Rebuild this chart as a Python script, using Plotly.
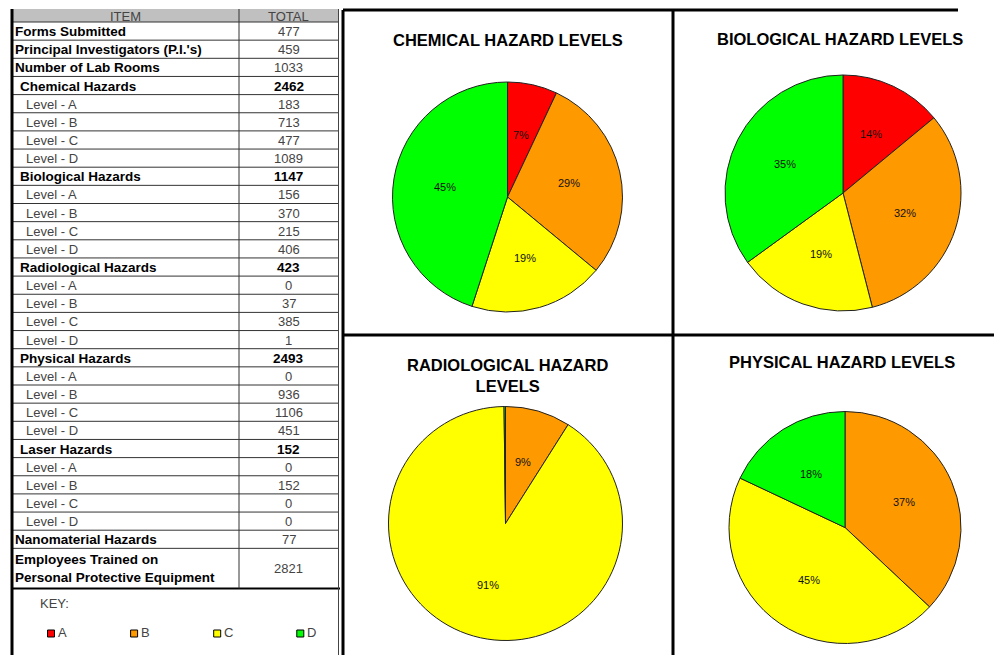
import numpy as np
import plotly.graph_objects as go

W, H = 994, 655
FONT = "Arial, Liberation Sans, sans-serif"

# ---------------------------------------------------------------- data
LEVELS = ["A", "B", "C", "D"]
LEVEL_COLORS = ["#FF0000", "#FF9900", "#FFFF00", "#00FF00"]

general_items = ["Forms Submitted", "Principal Investigators (P.I.'s)", "Number of Lab Rooms"]
general_totals = [477, 459, 1033]

hazard_groups = ["Chemical Hazards", "Biological Hazards", "Radiological Hazards",
                 "Physical Hazards", "Laser Hazards"]
chemical_counts = [183, 713, 477, 1089]
biological_counts = [156, 370, 215, 406]
radiological_counts = [0, 37, 385, 1]
physical_counts = [0, 936, 1106, 451]
laser_counts = [0, 152, 0, 0]

closing_items = ["Nanomaterial Hazards", "Employees Trained on<br>Personal Protective Equipment"]
closing_totals = [77, 2821]

# share of each level, in percent, as shown on the pies
chemical_pct = [7, 29, 19, 45]
biological_pct = [14, 32, 19, 35]
radiological_pct = [0, 9, 91, 0.2]
physical_pct = [0, 37, 45, 18]

pie_titles = ["CHEMICAL HAZARD LEVELS", "BIOLOGICAL HAZARD LEVELS",
              "RADIOLOGICAL HAZARD<br>LEVELS", "PHYSICAL HAZARD LEVELS"]

# ---------------------------------------------------------------- table rows
rows = []  # (label, value, kind)
for item, tot in zip(general_items, general_totals):
    rows.append((item, tot, "top"))
for group, counts in zip(hazard_groups, [chemical_counts, biological_counts, radiological_counts,
                                          physical_counts, laser_counts]):
    rows.append((group, sum(counts), "group"))
    for lvl, c in zip(LEVELS, counts):
        rows.append((f"Level - {lvl}", c, "level"))
for item, tot in zip(closing_items, closing_totals):
    rows.append((item, tot, "top"))

# table geometry (axis units equal screen pixels)
T_LEFT, T_RIGHT, T_SPLIT = 12.5, 338.5, 239.0
HEAD_TOP, HEAD_BOT = 9.0, 22.0
PITCH = 18.15
LAST_BOT = 588.5
INDENT = {"top": 12.5, "group": 17.5, "level": 23.5}

fig = go.Figure()
shapes, annos = [], []


def line(x0, y0, x1, y1, color="#000", width=1):
    shapes.append(dict(type="line", xref="x", yref="y", x0=x0, y0=y0, x1=x1, y1=y1,
                       line=dict(color=color, width=width)))


def text(x, y, s, size=13, color="#333", bold=False, xanchor="left", yanchor="middle",
         align="center"):
    annos.append(dict(xref="x", yref="y", x=x, y=y, text=s, showarrow=False,
                      xanchor=xanchor, yanchor=yanchor, align=align,
                      font=dict(family=FONT, size=size, color=color,
                                weight="bold" if bold else "normal")))


# header
shapes.append(dict(type="rect", xref="x", yref="y", x0=T_LEFT, x1=T_RIGHT, y0=HEAD_TOP, y1=HEAD_BOT,
                   fillcolor="#C0C0C0", line=dict(width=0), layer="below"))
text((T_LEFT + T_SPLIT) / 2, (HEAD_TOP + HEAD_BOT) / 2 + 0.5, "ITEM", size=13, color="#444",
     xanchor="center")
text((T_SPLIT + T_RIGHT) / 2, (HEAD_TOP + HEAD_BOT) / 2 + 0.5, "TOTAL", size=13, color="#444",
     xanchor="center")

# body rows
for i, (label, val, kind) in enumerate(rows):
    top = HEAD_BOT + i * PITCH
    bot = top + PITCH if i < len(rows) - 1 else LAST_BOT
    yc = (top + bot) / 2 + 0.5
    bold_label = kind in ("top", "group")
    text(INDENT[kind], yc, label, size=13.5 if bold_label else 13,
         color="#000" if bold_label else "#444", bold=bold_label, align="left")
    text((T_SPLIT + T_RIGHT) / 2, yc, f"{val}", size=13.5 if kind == "group" else 13,
         color="#000" if kind == "group" else "#444", bold=kind == "group", xanchor="center")
    line(T_LEFT, top, T_RIGHT, top, color="#333", width=1)

line(T_LEFT, LAST_BOT, 340, LAST_BOT, color="#000", width=2)
line(T_SPLIT, HEAD_TOP, T_SPLIT, LAST_BOT, color="#333", width=1)
line(T_RIGHT, HEAD_TOP, T_RIGHT, H, color="#444", width=1)
line(12, HEAD_TOP, 12, H, color="#000", width=3)

# key
text(38, 603, "KEY:", size=13, color="#444")
key_x = [51 + 83.1 * i for i in range(len(LEVELS))]
fig.add_trace(go.Scatter(x=key_x, y=[633.5] * len(LEVELS), mode="markers",
                         marker=dict(symbol="square", size=7, color=LEVEL_COLORS,
                                     line=dict(color="#000", width=1)),
                         hoverinfo="skip", showlegend=False))
for kx, lvl in zip(key_x, LEVELS):
    text(kx + 4.5, 632.5, lvl, size=13, color="#444")

# ---------------------------------------------------------------- chart panels
line(343, 10, 343, H, width=3)
line(673, 9, 673, H, width=3)
line(343, 10, 958, 10, width=3)
line(343, 335, W, 335, width=3)

# pies: (centre x, centre y, radius) and title position
pie_geom = [(507.5, 197, 115), (843, 193, 118), (505.5, 523.5, 117), (845, 527.5, 116)]
title_pos = [(508, 39.5), (840, 38.5), (507.5, 375), (842, 362)]
pie_values = [chemical_pct, biological_pct, radiological_pct, physical_pct]

for vals, (cx, cy, r), (tx, ty), title in zip(pie_values, pie_geom, title_pos, pie_titles):
    fig.add_trace(go.Pie(
        values=vals, labels=LEVELS, sort=False, direction="clockwise", rotation=0,
        marker=dict(colors=LEVEL_COLORS, line=dict(color="#222", width=1)),
        textinfo="none", hoverinfo="label+percent", showlegend=False,
        domain=dict(x=[(cx - r) / W, (cx + r) / W], y=[1 - (cy + r) / H, 1 - (cy - r) / H]),
    ))
    # percentage labels on the bisector of each slice
    v = np.asarray(vals, dtype=float)
    frac = v / v.sum()
    mid = np.cumsum(frac) - frac / 2
    for val, m in zip(vals, mid):
        if val < 1:
            continue
        ang = 2 * np.pi * m
        text(cx + 0.55 * r * np.sin(ang), cy - 0.55 * r * np.cos(ang), f"{val:g}%",
             size=11, color="#111", xanchor="center")
    text(tx, ty, title, size=16.5, color="#000", bold=True, xanchor="center")

fig.update_layout(
    width=W, height=H, margin=dict(l=0, r=0, t=0, b=0),
    paper_bgcolor="white", plot_bgcolor="white",
    xaxis=dict(range=[0, W], domain=[0, 1], visible=False, fixedrange=True),
    yaxis=dict(range=[H, 0], domain=[0, 1], visible=False, fixedrange=True),
    shapes=shapes, annotations=annos, showlegend=False,
)

fig.write_html("out.html")
